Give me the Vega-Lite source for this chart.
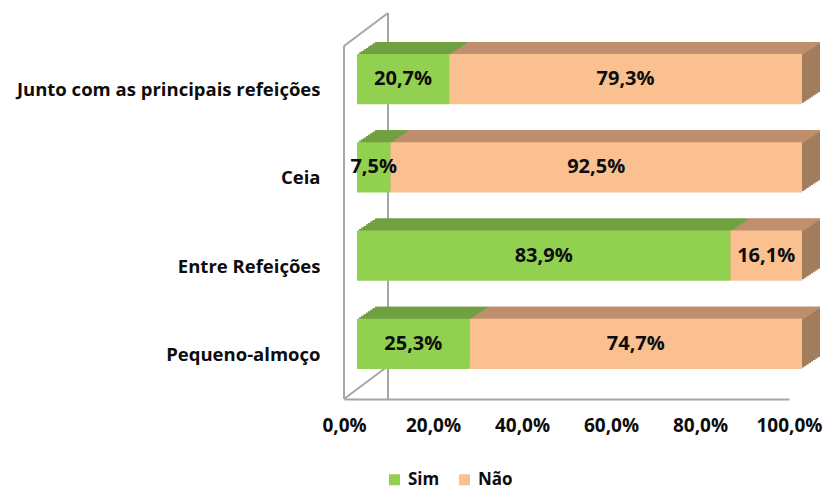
{
  "$schema": "https://vega.github.io/schema/vega-lite/v6.json",
  "width": 445,
  "height": 353,
  "autosize": {"type": "none"},
  "padding": {"left": 344, "top": 46, "right": 36, "bottom": 90},
  "background": "#ffffff",
  "config": {
    "view": {"stroke": null},
    "font": "Open Sans",
    "locale": {"number": {"decimal": ",", "thousands": ".", "grouping": [3], "currency": ["", " €"]}}
  },
  "data": {
    "values": [
      {"cat": "Junto com as principais refeições", "Resposta": "Sim", "v": 0.207},
      {"cat": "Junto com as principais refeições", "Resposta": "Não", "v": 0.793},
      {"cat": "Ceia", "Resposta": "Sim", "v": 0.075},
      {"cat": "Ceia", "Resposta": "Não", "v": 0.925},
      {"cat": "Entre Refeições", "Resposta": "Sim", "v": 0.839},
      {"cat": "Entre Refeições", "Resposta": "Não", "v": 0.161},
      {"cat": "Pequeno-almoço", "Resposta": "Sim", "v": 0.253},
      {"cat": "Pequeno-almoço", "Resposta": "Não", "v": 0.747}
    ]
  },
  "transform": [
    {"stack": "v", "groupby": ["cat"], "sort": [{"field": "Resposta", "order": "descending"}], "as": ["v0", "v1"]},
    {"calculate": "(datum.v0 + datum.v1) / 2", "as": "mid"}
  ],
  "layer": [
    {
      "data": {"values": [{}]},
      "layer": [
        {"mark": {"type": "rule", "color": "#A6A6A6", "strokeWidth": 2}, "encoding": {"x": {"datum": 0}}},
        {"mark": {"type": "rule", "color": "#A6A6A6", "strokeWidth": 2, "xOffset": 44, "yOffset": -33}, "encoding": {"x": {"datum": 0}}},
        {"mark": {"type": "rule", "color": "#A6A6A6", "strokeWidth": 2, "x2Offset": 44, "y2Offset": -33}, "encoding": {"x": {"datum": 0}, "x2": {"datum": 0}, "y": {"value": 0}, "y2": {"value": 0}}},
        {"mark": {"type": "rule", "color": "#A6A6A6", "strokeWidth": 2, "x2Offset": 44, "y2Offset": -33}, "encoding": {"x": {"datum": 0}, "x2": {"datum": 0}, "y": {"value": "height"}, "y2": {"value": "height"}}}
      ]
    },
    {
      "encoding": {
        "y": {
          "field": "cat", "type": "nominal", "sort": null,
          "scale": {"paddingInner": 0.433, "paddingOuter": 0.2165},
          "axis": {"title": null, "domain": false, "ticks": false, "labelPadding": 24, "labelLimit": 400, "labelFontSize": 18.5, "labelFontWeight": "bold", "labelColor": "#0d0d0d", "labelFont": "Open Sans"}
        },
        "x": {
          "field": "v0", "type": "quantitative",
          "scale": {"domain": [0, 1], "nice": false},
          "axis": {"title": null, "values": [0, 0.2, 0.4, 0.6, 0.8, 1], "format": ".1%", "grid": false, "ticks": false, "domain": true, "domainColor": "#A6A6A6", "domainWidth": 2, "labelPadding": 17, "labelFontSize": 19, "labelFontWeight": "bold", "labelColor": "#0d0d0d", "labelFont": "Open Sans", "labelFlush": false}
        },
        "x2": {"field": "v1"}
      },
      "layer": [
        {"mark": {"type": "bar", "xOffset": 31, "x2Offset": 31, "yOffset": -23}, "encoding": {"fill": {"condition": {"test": "datum.Resposta === 'Sim'", "value": "#70A040"}, "value": "#A27D5D"}}},
        {"mark": {"type": "bar", "xOffset": 28.75, "x2Offset": 28.75, "yOffset": -21.5}, "encoding": {"fill": {"condition": {"test": "datum.Resposta === 'Sim'", "value": "#70A040"}, "value": "#A27D5D"}}},
        {"mark": {"type": "bar", "xOffset": 26.5, "x2Offset": 26.5, "yOffset": -20}, "encoding": {"fill": {"condition": {"test": "datum.Resposta === 'Sim'", "value": "#70A040"}, "value": "#A27D5D"}}},
        {"mark": {"type": "bar", "xOffset": 24.25, "x2Offset": 24.25, "yOffset": -18.5}, "encoding": {"fill": {"condition": {"test": "datum.Resposta === 'Sim'", "value": "#70A040"}, "value": "#A27D5D"}}},
        {"mark": {"type": "bar", "xOffset": 22, "x2Offset": 22, "yOffset": -17}, "encoding": {"fill": {"condition": {"test": "datum.Resposta === 'Sim'", "value": "#70A040"}, "value": "#A27D5D"}}},
        {"mark": {"type": "bar", "xOffset": 19.75, "x2Offset": 19.75, "yOffset": -15.5}, "encoding": {"fill": {"condition": {"test": "datum.Resposta === 'Sim'", "value": "#70A040"}, "value": "#A27D5D"}}},
        {"mark": {"type": "bar", "xOffset": 17.5, "x2Offset": 17.5, "yOffset": -14}, "encoding": {"fill": {"condition": {"test": "datum.Resposta === 'Sim'", "value": "#70A040"}, "value": "#A27D5D"}}},
        {"mark": {"type": "bar", "xOffset": 15.25, "x2Offset": 15.25, "yOffset": -12.5}, "encoding": {"fill": {"condition": {"test": "datum.Resposta === 'Sim'", "value": "#70A040"}, "value": "#A27D5D"}}},
        {"mark": {"type": "bar", "size": 2, "xOffset": 31, "x2Offset": 31, "yOffset": -47.25}, "encoding": {"fill": {"condition": {"test": "datum.Resposta === 'Sim'", "value": "#70A040"}, "value": "#BF8F6E"}}},
        {"mark": {"type": "bar", "size": 2, "xOffset": 28.75, "x2Offset": 28.75, "yOffset": -45.75}, "encoding": {"fill": {"condition": {"test": "datum.Resposta === 'Sim'", "value": "#70A040"}, "value": "#BF8F6E"}}},
        {"mark": {"type": "bar", "size": 2, "xOffset": 26.5, "x2Offset": 26.5, "yOffset": -44.25}, "encoding": {"fill": {"condition": {"test": "datum.Resposta === 'Sim'", "value": "#70A040"}, "value": "#BF8F6E"}}},
        {"mark": {"type": "bar", "size": 2, "xOffset": 24.25, "x2Offset": 24.25, "yOffset": -42.75}, "encoding": {"fill": {"condition": {"test": "datum.Resposta === 'Sim'", "value": "#70A040"}, "value": "#BF8F6E"}}},
        {"mark": {"type": "bar", "size": 2, "xOffset": 22, "x2Offset": 22, "yOffset": -41.25}, "encoding": {"fill": {"condition": {"test": "datum.Resposta === 'Sim'", "value": "#70A040"}, "value": "#BF8F6E"}}},
        {"mark": {"type": "bar", "size": 2, "xOffset": 19.75, "x2Offset": 19.75, "yOffset": -39.75}, "encoding": {"fill": {"condition": {"test": "datum.Resposta === 'Sim'", "value": "#70A040"}, "value": "#BF8F6E"}}},
        {"mark": {"type": "bar", "size": 2, "xOffset": 17.5, "x2Offset": 17.5, "yOffset": -38.25}, "encoding": {"fill": {"condition": {"test": "datum.Resposta === 'Sim'", "value": "#70A040"}, "value": "#BF8F6E"}}},
        {"mark": {"type": "bar", "size": 2, "xOffset": 15.25, "x2Offset": 15.25, "yOffset": -36.75}, "encoding": {"fill": {"condition": {"test": "datum.Resposta === 'Sim'", "value": "#70A040"}, "value": "#BF8F6E"}}},
        {
          "mark": {"type": "bar", "xOffset": 13, "x2Offset": 13, "yOffset": -11},
          "encoding": {
            "color": {
              "field": "Resposta", "type": "nominal",
              "scale": {"domain": ["Sim", "Não"], "range": ["#92D050", "#FAC090"]},
              "legend": {"orient": "none", "legendX": 42, "legendY": 425, "direction": "horizontal", "title": null, "symbolType": "square", "symbolSize": 121, "symbolStrokeWidth": 0, "labelFontSize": 17, "labelFontWeight": "bold", "labelColor": "#0d0d0d", "labelFont": "Open Sans", "columnPadding": 16, "labelOffset": 5}
            }
          }
        }
      ]
    },
    {
      "mark": {"type": "text", "xOffset": 13, "yOffset": -11, "fontSize": 20, "fontWeight": "bold", "font": "Open Sans", "color": "#0d0d0d"},
      "encoding": {
        "y": {"field": "cat", "type": "nominal", "sort": null},
        "x": {"field": "mid", "type": "quantitative", "axis": {"title": null}},
        "text": {"field": "v", "type": "quantitative", "format": ".1%"}
      }
    }
  ]
}
